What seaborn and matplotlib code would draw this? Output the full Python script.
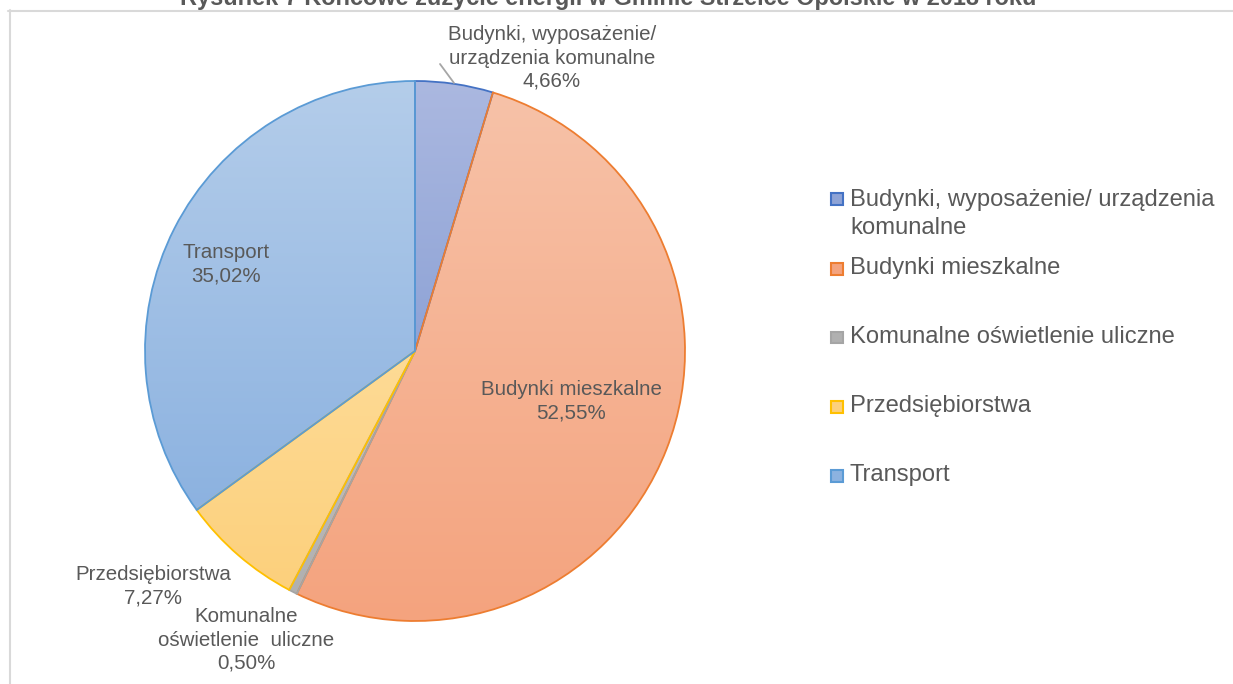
import numpy as np
import matplotlib
matplotlib.use('Agg')
import matplotlib.pyplot as plt
import seaborn as sns
from matplotlib.patches import Rectangle
from matplotlib.lines import Line2D
from matplotlib.colors import LinearSegmentedColormap

sns.set_theme(style='white')
plt.rcParams['font.family'] = ['Liberation Sans', 'DejaVu Sans']

# --- data ---
title = 'Rysunek 7 Końcowe zużycie energii w Gminie Strzelce Opolskie w 2018 roku'
categories = ['Budynki, wyposażenie/ urządzenia komunalne', 'Budynki mieszkalne',
              'Komunalne oświetlenie uliczne', 'Przedsiębiorstwa', 'Transport']
shares = [4.66, 52.55, 0.50, 7.27, 35.02]
label_names = ['Budynki, wyposażenie/\nurządzenia komunalne', 'Budynki mieszkalne',
               'Komunalne\noświetlenie  uliczne', 'Przedsiębiorstwa', 'Transport']
legend_names = ['Budynki, wyposażenie/ urządzenia\nkomunalne', 'Budynki mieszkalne',
                'Komunalne oświetlenie uliczne', 'Przedsiębiorstwa', 'Transport']

# --- styles ---
edge_colors = ['#4472c4', '#ed7d31', '#a5a5a5', '#ffc000', '#5b9bd5']
top_colors = ['#abb8e0', '#f7c2a8', '#c4c4c4', '#fedb96', '#b4cdea']
bottom_colors = ['#8ea3d6', '#f4a37e', '#b0b0b0', '#fcd07c', '#8cb2e0']
text_color = '#595959'

W, H = 1233, 684
CX, CY, R = 415, 351, 270


def d(px, py):
    # pixel position -> pie data coords
    return (px - CX) / R, (CY - py) / R


def f(px, py):
    # pixel position -> figure fraction
    return px / W, 1 - py / H


fig = plt.figure(figsize=(W / 100, H / 100), dpi=100)
ax = fig.add_axes([0, 0, 1, 1])

wedges, _ = ax.pie(shares, startangle=90, counterclock=False, radius=1,
                   wedgeprops=dict(linewidth=1.3))

# gradient fill per slice, clipped to the wedge
grad = np.linspace(0, 1, 256).reshape(-1, 1)
for w, ec, c1, c2 in zip(wedges, edge_colors, top_colors, bottom_colors):
    w.set_facecolor('none')
    w.set_edgecolor(ec)
    w.set_zorder(3)
    t = np.radians(np.linspace(w.theta1, w.theta2, 100))
    xs = np.concatenate([[0], np.cos(t) * w.r])
    ys = np.concatenate([[0], np.sin(t) * w.r])
    cmap = LinearSegmentedColormap.from_list('g', [c1, c2])
    im = ax.imshow(grad, cmap=cmap, aspect='auto', origin='upper',
                   extent=(xs.min(), xs.max(), ys.min(), ys.max()), zorder=1)
    im.set_clip_path(w)

ax.set_xlim(-CX / R, (W - CX) / R)
ax.set_ylim(-(H - CY) / R, CY / R)
ax.set_aspect('equal')
ax.axis('off')

# data labels
label_px = [(552, 58), (571, 401), (246, 640), (153, 586), (226, 264)]
for name, v, (x, y) in zip(label_names, shares, label_px):
    pct = f'{v:.2f}'.replace('.', ',') + '%'
    ax.text(*d(x, y), f'{name}\n{pct}', ha='center', va='center',
            fontsize=14.8, color=text_color, linespacing=1.27, zorder=5)

# leader line for the small top slice
lx, ly = zip(d(440, 64), d(454, 83))
ax.plot(lx, ly, color='#a6a6a6', lw=1.3, zorder=4)

# legend drawn by hand (Excel-like fixed slots)
legend_y = [198, 268, 337, 406, 475]
for name, y, ec, c1, c2 in zip(legend_names, legend_y, edge_colors, top_colors, bottom_colors):
    x0, y0 = f(831, y + 6.5)
    fig.add_artist(Rectangle((x0, y0), 12 / W, 12 / H, transform=fig.transFigure,
                             facecolor=c2, edgecolor=ec, lw=1.5))
    if '\n' in name:
        fig.text(*f(850, y - 9), name, ha='left', va='top', fontsize=17.1,
                 color=text_color, linespacing=1.36)
    else:
        fig.text(*f(850, y), name, ha='left', va='center', fontsize=17.1, color=text_color)

# chart frame and cropped title
fig.add_artist(Line2D([8 / W, 1], [1 - 10.5 / H] * 2, transform=fig.transFigure,
                      color='#d9d9d9', lw=1.5))
fig.add_artist(Line2D([9.5 / W] * 2, [0, 1 - 10 / H], transform=fig.transFigure,
                      color='#d9d9d9', lw=1.5))
fig.text(*f(608, 5), title, ha='center', va='baseline', fontsize=16.9,
         fontweight='bold', color=text_color)

fig.savefig('out.png', dpi=100)
